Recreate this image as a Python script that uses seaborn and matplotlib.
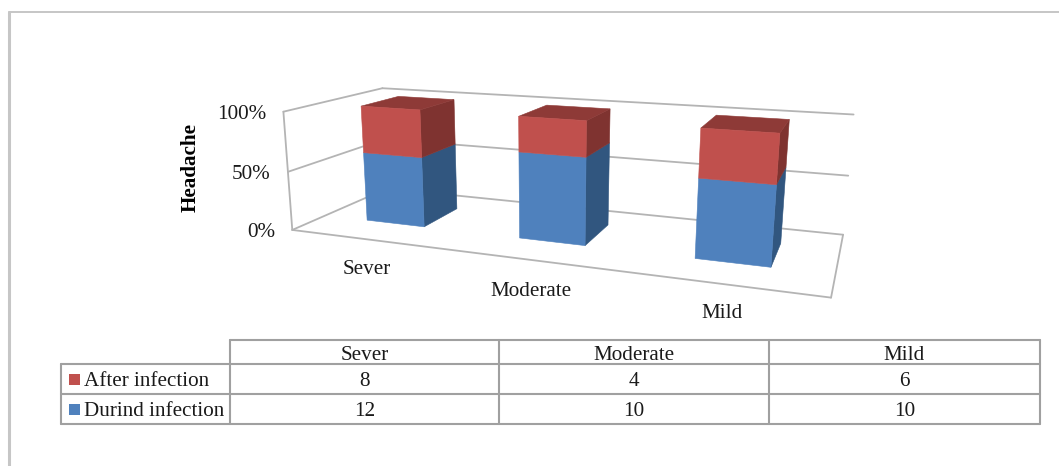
import numpy as np
import matplotlib
matplotlib.use("Agg")
import matplotlib.pyplot as plt
from matplotlib.patches import Polygon, Rectangle
import seaborn as sns

# Survey counts
categories = ["Sever", "Moderate", "Mild"]
during_infection = [12, 10, 10]
after_infection = [8, 4, 6]
series_names = ["After infection", "Durind infection"]
percent_ticks = [0, 50, 100]

BLUE, RED = sns.color_palette(["#4F81BD", "#C0504D"])
BLUE_SIDE, RED_SIDE, RED_TOP = "#31567F", "#7F3330", "#8E3A37"
GRID = "#B4B4B4"
TABLE_LINE = "#A0A0A0"
FRAME = "#C6C6C6"

sns.set_theme(style="white")
plt.rcParams["font.family"] = ["Liberation Serif", "DejaVu Serif"]
FS = 15.2
TEXT = "#1a1a1a"

fig = plt.figure(figsize=(10.59, 4.66), dpi=100)
ax = fig.add_axes([0, 0, 1, 1])
ax.set_xlim(0, 1059)
ax.set_ylim(466, 0)
ax.axis("off")

# Camera for the 3-D plot box: box corners (x, depth, share) and where they land on the canvas
box_corners = np.array([
    [0, 0, 0], [0, 0, 1], [0, 1, 1], [1, 1, 1], [1, 1, 0], [1, 0, 0], [0, 1, 0],
    [0, 0, .5], [1, 1, .5]], float)
canvas_corners = np.array([
    [293.3, 230], [282.3, 111.7], [383.5, 88.3], [853.3, 114.3], [843.3, 234.5],
    [831, 297.7], [386, 188.5], [288, 171.7], [848.3, 176]], float)


def fit_camera(world, image):
    rows = []
    for (x, y, z), (u, v) in zip(world, image):
        h = [x, y, z, 1]
        rows.append(h + [0, 0, 0, 0] + [-u * c for c in h])
        rows.append([0, 0, 0, 0] + h + [-v * c for c in h])
    return np.linalg.svd(np.array(rows))[2][-1].reshape(3, 4)


CAMERA = fit_camera(box_corners, canvas_corners)


def project(x, y, z):
    p = CAMERA @ np.array([x, y, z, 1.0])
    return p[:2] / p[2]


def line3d(a, b):
    pa, pb = project(*a), project(*b)
    ax.plot([pa[0], pb[0]], [pa[1], pb[1]], color=GRID, lw=1.3, zorder=1)


def face(points, color, z=3):
    ax.add_patch(Polygon([project(*p) for p in points], closed=True, facecolor=color,
                         edgecolor=color, lw=0.4, zorder=z))


# Walls and floor
for pct in percent_ticks:
    s = pct / 100
    line3d((0, 0, s), (0, 1, s))
    line3d((0, 1, s), (1, 1, s))
line3d((0, 0, 0), (0, 0, 1))
line3d((0, 0, 0), (1, 0, 0))
line3d((1, 0, 0), (1, 1, 0))

# Stacked 100% bars
BAR_W = 0.39
BAR_SHIFT = -0.003
D0, D1 = 0.315, 0.72
for i, (low, high) in enumerate(zip(during_infection, after_infection)):
    total = low + high
    split = low / total
    mid = (i + 0.5) / 3 + BAR_SHIFT
    x0 = mid - BAR_W / 6
    x1 = mid + BAR_W / 6
    for z0, z1, front, side in [(0, split, BLUE, BLUE_SIDE), (split, 1, RED, RED_SIDE)]:
        face([(x0, D0, z0), (x1, D0, z0), (x1, D0, z1), (x0, D0, z1)], front, 4)
        face([(x1, D0, z0), (x1, D1, z0), (x1, D1, z1), (x1, D0, z1)], side, 3)
    face([(x0, D0, 1), (x1, D0, 1), (x1, D1, 1), (x0, D1, 1)], RED_TOP, 3)

# Percent axis labels and title
for pct in percent_ticks:
    u, v = project(0, 0, pct / 100)
    ax.text(u - 17, v + 3, f"{pct}%", ha="right", va="center", fontsize=FS, color=TEXT)
ax.text(191, 167, "Headache", rotation=90, ha="center", va="center", fontsize=FS,
        fontweight="bold", color="black")

# Category labels along the front of the floor
for name, pos in zip(categories, [(367, 269), (531, 291), (722, 313)]):
    ax.text(*pos, name, ha="center", va="center", fontsize=FS, color=TEXT)

# Data table
col_edges = [230, 499, 769, 1040]
row_edges = [340, 364, 394, 424]
left = 61
for x in col_edges:
    ax.plot([x, x], [row_edges[0], row_edges[-1]], color=TABLE_LINE, lw=1.5)
ax.plot([left, left], [row_edges[1], row_edges[-1]], color=TABLE_LINE, lw=1.5)
ax.plot([col_edges[0], col_edges[-1]], [row_edges[0]] * 2, color=TABLE_LINE, lw=1.5)
for y in row_edges[1:]:
    ax.plot([left, col_edges[-1]], [y, y], color=TABLE_LINE, lw=1.5)

centers = [(a + b) / 2 for a, b in zip(col_edges[:-1], col_edges[1:])]
for c, name, top, bottom in zip(centers, categories, after_infection, during_infection):
    ax.text(c, 355, name, ha="center", va="center", fontsize=FS, color=TEXT)
    ax.text(c, 381, str(top), ha="center", va="center", fontsize=FS, color=TEXT)
    ax.text(c, 411, str(bottom), ha="center", va="center", fontsize=FS, color=TEXT)

for name, color, y in zip(series_names, [RED, BLUE], [379, 409]):
    ax.add_patch(Rectangle((69, y - 5.5), 11, 11, facecolor=color, edgecolor="none"))
    ax.text(84, y + 2, name, ha="left", va="center", fontsize=FS, color=TEXT)

# Page frame at the top and left
ax.plot([9, 1059], [12, 12], color=FRAME, lw=1.4)
ax.plot([9, 9], [12, 466], color=FRAME, lw=2.2)

fig.savefig("out.png", dpi=100)
